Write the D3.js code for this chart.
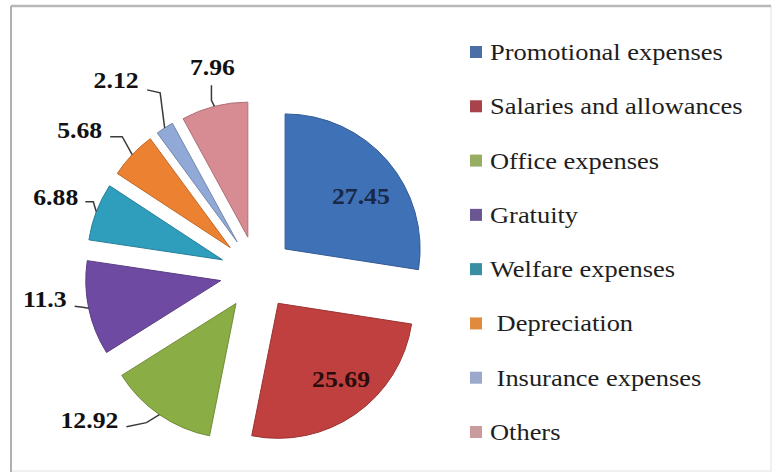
<!DOCTYPE html>
<html>
<head>
<meta charset="utf-8">
<script src="https://cdn.jsdelivr.net/npm/d3@7"></script>
<style>
  html, body { margin: 0; padding: 0; background: #fff; }
  svg { display: block; }
  text { font-family: "Liberation Serif", "Times New Roman", serif; }
</style>
</head>
<body>
<svg id="chart" width="775" height="475"></svg>
<script>
// Expense categories and their shares (%)
const categories = [
  "Promotional expenses",
  "Salaries and allowances",
  "Office expenses",
  "Gratuity",
  "Welfare expenses",
  " Depreciation",
  " Insurance expenses",
  "Others"
];
const shares = [27.45, 25.69, 12.92, 11.3, 6.88, 5.68, 2.12, 7.96];
const valueLabels = ["27.45", "25.69", "12.92", "11.3", "6.88", "5.68", "2.12", "7.96"];

const sliceColors = ["#3f71b7", "#bf403e", "#8aad45", "#6f4aa2", "#2f9dbc", "#ec8231", "#90a9d6", "#d78b93"];
const legendColors = ["#4a6ea6", "#a9434b", "#97ae62", "#6a5690", "#3a8ea2", "#df8a3c", "#9ba9cc", "#c99b9d"];

// Leader-line callouts for the small slices: offsets from the slice's outer edge
const callouts = {
  2: { elbow: [-13, 8], end: [-33, 12], text: [-41, 5], anchor: "end" },
  3: { elbow: [-6, -1], end: [-14, -2], text: [-22, -9], anchor: "end" },
  4: { elbow: [-3, -10], end: [-11, -10], text: [-18, -15], anchor: "end" },
  5: { elbow: [-10, -18], end: [-22, -18], text: [-30, -25], anchor: "end" },
  6: { elbow: [-4.5, -35], end: [-17.5, -38], text: [-26, -48], anchor: "end" },
  7: { elbow: [-3, -6], end: [-3, -21], text: [-2, -39], anchor: "middle" }
};
// Labels placed inside the two large slices: colour and nudge from the radial spot
const insideLabels = {
  0: { color: "#1a2848", nudge: [3, 5] },
  1: { color: "#2a0c0c", nudge: [8, -7] }
};

const svg = d3.select("#chart");

// Frame
svg.append("rect")
  .attr("x", 11).attr("y", 6).attr("width", 760).attr("height", 465)
  .attr("fill", "#fff").attr("stroke", "#e2e2e2").attr("stroke-width", 1);
svg.append("line").attr("x1", 11).attr("y1", 6).attr("x2", 771).attr("y2", 6)
  .attr("stroke", "#b8b8b8").attr("stroke-width", 2.5);
svg.append("line").attr("x1", 11).attr("y1", 6).attr("x2", 11).attr("y2", 472)
  .attr("stroke", "#b0b0b0").attr("stroke-width", 2);

// Pie geometry
const cx = 257, cy = 273, R = 135, explode = 37;
const pie = d3.pie().sort(null).value(d => d)(shares);
const arc = d3.arc().innerRadius(0).outerRadius(R);

const dirOf = d => {
  const a = (d.startAngle + d.endAngle) / 2;
  return [Math.sin(a), -Math.cos(a)];
};

const g = svg.append("g").attr("transform", `translate(${cx},${cy})`);

const slices = g.selectAll("g.slice")
  .data(pie)
  .join("g")
  .attr("class", "slice")
  .attr("transform", d => {
    const [ux, uy] = dirOf(d);
    return `translate(${ux * explode},${uy * explode})`;
  });

slices.append("path")
  .attr("d", arc)
  .attr("fill", (d, i) => sliceColors[i])
  .attr("stroke", (d, i) => d3.color(sliceColors[i]).darker(0.6))
  .attr("stroke-width", 1);

const fs = 23, sx = 1.12;
const labelText = (sel, x, y, anchor, color, txt) => {
  sel.append("text")
    .attr("transform", `translate(${x},${y}) scale(${sx},1)`)
    .attr("text-anchor", anchor)
    .attr("dy", "0.35em")
    .attr("font-size", fs)
    .attr("font-weight", "bold")
    .attr("fill", color)
    .text(txt);
};

// Labels inside the two large slices
pie.forEach((d, i) => {
  const lab = insideLabels[i];
  if (!lab) return;
  const [ux, uy] = dirOf(d);
  const r = R * 0.71;
  labelText(g, ux * (explode + r) + lab.nudge[0], uy * (explode + r) + 4 + lab.nudge[1],
    "middle", lab.color, valueLabels[i]);
});

// Callout labels with leader lines
pie.forEach((d, i) => {
  const c = callouts[i];
  if (!c) return;
  const [ux, uy] = dirOf(d);
  const px = ux * (explode + R), py = uy * (explode + R);
  g.append("polyline")
    .attr("points", [[px, py], [px + c.elbow[0], py + c.elbow[1]], [px + c.end[0], py + c.end[1]]]
      .map(p => p.join(",")).join(" "))
    .attr("fill", "none")
    .attr("stroke", "#3a3a3a")
    .attr("stroke-width", 1.5);
  labelText(g, px + c.text[0], py + c.text[1], c.anchor, "#111", valueLabels[i]);
});

// Legend
const legendY = d3.scalePoint().domain(d3.range(categories.length)).range([52, 432]);
const legend = svg.append("g");
categories.forEach((name, i) => {
  const y = legendY(i);
  legend.append("rect")
    .attr("x", 470).attr("y", y - 6).attr("width", 12).attr("height", 12)
    .attr("fill", legendColors[i]);
  legend.append("text")
    .attr("transform", `translate(490,${y}) scale(1.15,1)`)
    .attr("dy", "0.35em")
    .attr("font-size", 23)
    .attr("fill", "#1e1e1e")
    .style("white-space", "pre")
    .text(name);
});
</script>
</body>
</html>
